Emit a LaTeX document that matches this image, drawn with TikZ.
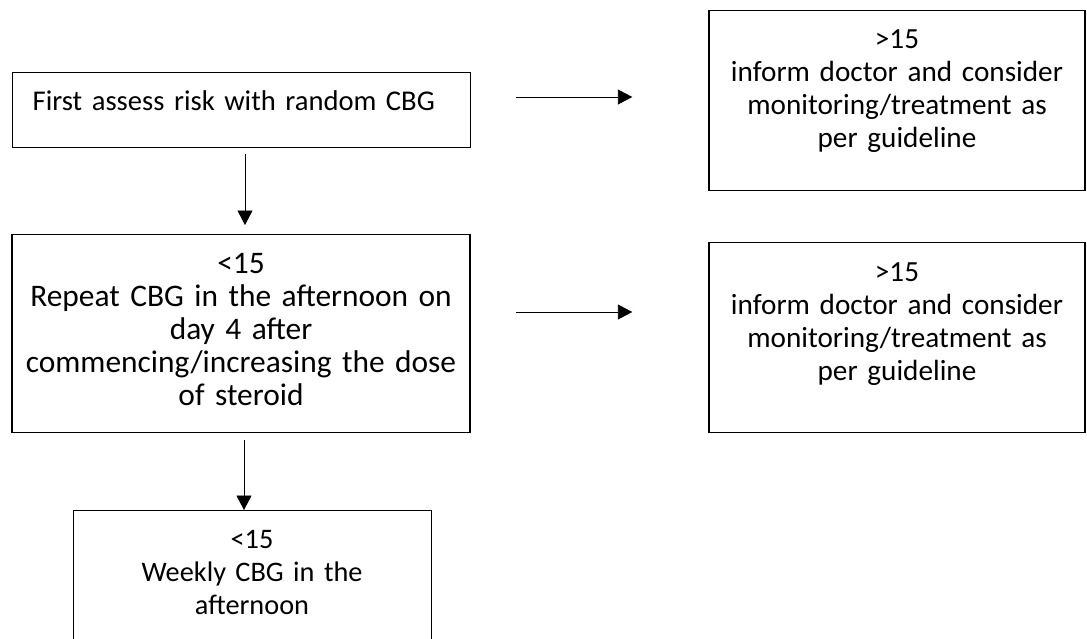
\documentclass[tikz,border=0pt]{standalone}
\usepackage{fontspec}
\setmainfont{Carlito}
\usetikzlibrary{arrows.meta}
\newcommand{\cbgfont}{\fontsize{29.2}{33}\selectfont}
\newcommand{\cbgbig}{\fontsize{31.4}{33}\selectfont}
\newcommand{\cbgsmall}{\fontsize{28.3}{33}\selectfont}
\tikzset{
  box/.style={draw, line width=1.4pt, inner sep=0pt, align=center, anchor=north, font=\cbgfont},
  arr/.style={-{Triangle[length=14.5pt,width=15pt]}, line width=0.9pt},
}
\begin{document}
\begin{tikzpicture}[x=1pt, y=-1pt]
\useasboundingbox (0,0) rectangle (1087,638);
\node[box, font=\fontsize{28.6}{33}\selectfont, anchor=north west, align=left, inner xsep=20pt, text width=418pt, text height=38pt, text depth=37pt] (first) at (12,72) {First assess risk with random CBG};
\node[box, text width=376pt, text height=38pt, text depth=142pt] (high1) at (897,10) {>15\\inform doctor and consider\\monitoring/treatment as\\per guideline};
\node[box, font=\cbgbig, text width=458pt, text height=39pt, text depth=159pt] (repeat) at (241,234) {<15\\Repeat CBG in the afternoon on\\day 4 after\\commencing/increasing the dose\\of steroid};
\node[box, text width=376pt, text height=39pt, text depth=151pt] (high2) at (897,242) {>15\\inform doctor and consider\\monitoring/treatment as\\per guideline};
\node[box, font=\cbgsmall, line width=0.9pt, text width=358pt, text height=38pt, text depth=132pt] (weekly) at (252,510) {<15\\Weekly CBG in the\\afternoon};
\coordinate (row1) at (0,97);
\coordinate (row2) at (0,312);
\coordinate (col1) at (245,0);
\coordinate (col2) at (244,0);
\draw[arr, shorten <=45pt, shorten >=76pt] (first.east |- row1) -- (high1.west |- row1);
\draw[arr, shorten <=45pt, shorten >=76pt] (repeat.east |- row2) -- (high2.west |- row2);
\draw[arr, shorten <=6pt, shorten >=9pt] (first.south -| col1) -- (repeat.north -| col1);
\draw[arr, shorten <=7pt] (repeat.south -| col2) -- (weekly.north -| col2);
\end{tikzpicture}
\end{document}
